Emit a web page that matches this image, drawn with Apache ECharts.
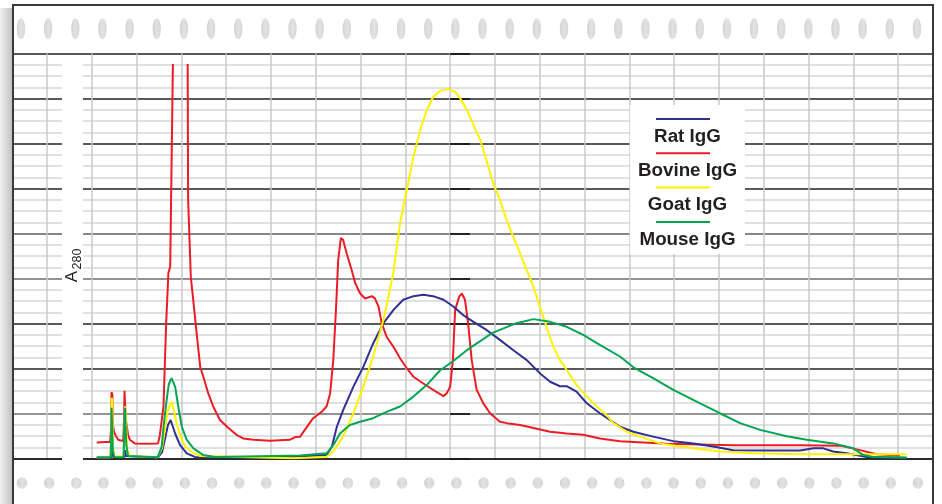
<!DOCTYPE html>
<html><head><meta charset="utf-8">
<script src="https://cdn.jsdelivr.net/npm/echarts@6/dist/echarts.min.js"></script>
<style>html,body{margin:0;padding:0;background:#fff}#c{width:942px;height:504px}</style>
</head><body><div id="c"></div>
<script>
// Series names and colours
const seriesNames = ['Rat IgG', 'Bovine IgG', 'Goat IgG', 'Mouse IgG'];
const seriesColors = ['#2e3192', '#ed1c24', '#fff200', '#00a651'];
const axisTitle = 'A';
const axisTitleSub = '280';

// [elution position (grid units), A280 (major grid units)]
const ratIgG = [
[1.11,0.02],[1.43,0.02],[1.44,0.19],[1.46,0.15],[1.48,0.04],[1.73,0.04],[1.74,0.19],[1.76,0.06],[2.47,0.02],[2.57,0.15],[2.63,0.42],[2.70,0.75],[2.76,0.86],[2.86,0.56],[2.97,0.30],[3.12,0.12],[3.30,0.04],[4.50,0.03],[5.60,0.05],[6.24,0.08],[6.36,0.27],[6.47,0.71],[6.61,1.08],[6.84,1.60],[7.06,2.04],[7.28,2.56],[7.51,3.01],[7.73,3.30],[7.95,3.53],[8.18,3.61],[8.40,3.64],[8.62,3.61],[8.85,3.53],[9.07,3.38],[9.29,3.19],[9.52,3.04],[9.81,2.86],[10.11,2.64],[10.41,2.41],[10.71,2.19],[11.00,1.90],[11.23,1.71],[11.45,1.61],[11.60,1.61],[11.82,1.49],[12.05,1.23],[12.34,1.01],[12.79,0.71],[13.09,0.60],[13.53,0.49],[13.98,0.39],[14.43,0.34],[14.87,0.27],[15.32,0.19],[16.07,0.18],[16.81,0.18],[17.11,0.23],[17.33,0.23],[17.55,0.16],[17.85,0.12],[18.30,0.04],[19.19,0.02]
];
const bovineIgG = [
[1.11,0.36],[1.30,0.37],[1.41,0.37],[1.43,0.64],[1.44,1.48],[1.46,1.42],[1.47,0.75],[1.50,0.59],[1.54,0.50],[1.59,0.42],[1.70,0.39],[1.72,0.86],[1.73,1.51],[1.75,1.48],[1.76,0.86],[1.81,0.53],[1.85,0.42],[1.96,0.34],[2.19,0.33],[2.48,0.34],[2.52,0.53],[2.60,1.16],[2.66,3.01],[2.71,4.13],[2.75,4.26],[2.81,8.75],[2.82,9.8],[3.13,9.8],[3.14,8.75],[3.15,5.75],[3.21,4.04],[3.28,3.38],[3.34,2.79],[3.42,2.04],[3.49,1.82],[3.60,1.45],[3.71,1.16],[3.86,0.86],[4.05,0.68],[4.23,0.53],[4.38,0.45],[4.61,0.42],[4.98,0.40],[5.42,0.42],[5.54,0.48],[5.65,0.49],[5.94,0.90],[6.13,1.04],[6.24,1.16],[6.32,1.45],[6.39,2.19],[6.45,3.30],[6.50,4.41],[6.56,4.90],[6.61,4.86],[6.69,4.56],[6.80,4.19],[6.88,3.90],[6.99,3.67],[7.10,3.56],[7.25,3.61],[7.32,3.56],[7.40,3.38],[7.47,3.01],[7.58,2.71],[7.73,2.49],[7.88,2.23],[8.03,2.01],[8.18,1.82],[8.40,1.67],[8.62,1.53],[8.85,1.39],[8.92,1.45],[9.00,1.60],[9.06,2.19],[9.11,3.30],[9.20,3.60],[9.26,3.67],[9.33,3.53],[9.40,3.01],[9.48,2.19],[9.59,1.53],[9.74,1.23],[9.89,1.01],[10.11,0.82],[10.26,0.79],[10.56,0.75],[10.86,0.68],[11.23,0.60],[11.60,0.56],[11.97,0.53],[12.34,0.45],[12.79,0.39],[13.83,0.33],[15.32,0.30],[16.81,0.30],[17.70,0.29],[18.15,0.19],[18.52,0.10],[19.04,0.07]
];
const goatIgG = [
[1.11,0.03],[1.41,0.03],[1.44,0.42],[1.44,1.35],[1.46,1.30],[1.47,0.30],[1.50,0.06],[1.70,0.04],[1.73,0.64],[1.74,1.16],[1.76,0.97],[1.79,0.19],[1.85,0.06],[2.47,0.03],[2.57,0.24],[2.63,0.64],[2.70,1.08],[2.78,1.27],[2.83,1.08],[2.90,0.75],[2.99,0.46],[3.10,0.26],[3.26,0.13],[3.42,0.06],[4.53,0.03],[5.50,0.01],[6.24,0.04],[6.39,0.16],[6.61,0.49],[6.84,1.01],[7.06,1.60],[7.28,2.27],[7.51,3.08],[7.73,4.12],[7.88,5.23],[8.03,5.97],[8.18,6.71],[8.33,7.30],[8.48,7.75],[8.62,8.04],[8.77,8.17],[8.96,8.21],[9.11,8.15],[9.22,8.01],[9.37,7.75],[9.52,7.41],[9.67,7.08],[9.81,6.63],[9.96,6.12],[10.11,5.75],[10.26,5.30],[10.41,4.93],[10.56,4.56],[10.71,4.19],[10.86,3.82],[11.00,3.38],[11.15,2.93],[11.30,2.49],[11.45,2.19],[11.60,1.97],[11.82,1.64],[12.05,1.38],[12.27,1.16],[12.49,0.97],[12.64,0.79],[12.94,0.60],[13.24,0.49],[13.68,0.34],[14.13,0.27],[14.43,0.23],[15.02,0.16],[15.77,0.12],[16.81,0.10],[18.30,0.10],[19.19,0.10]
];
const mouseIgG = [
[1.11,0.03],[1.42,0.03],[1.44,0.64],[1.44,1.13],[1.46,1.13],[1.47,0.19],[1.50,0.04],[1.71,0.03],[1.73,0.86],[1.74,1.13],[1.76,1.13],[1.77,0.30],[1.81,0.06],[2.47,0.03],[2.56,0.27],[2.61,0.79],[2.67,1.30],[2.72,1.66],[2.78,1.79],[2.82,1.75],[2.86,1.60],[2.93,1.16],[3.01,0.71],[3.12,0.42],[3.27,0.23],[3.49,0.08],[3.75,0.04],[5.65,0.07],[6.24,0.12],[6.39,0.30],[6.54,0.56],[6.76,0.75],[6.99,0.82],[7.28,0.90],[7.58,1.04],[7.88,1.16],[8.18,1.38],[8.48,1.64],[8.77,1.96],[9.07,2.17],[9.37,2.41],[9.67,2.61],[9.93,2.79],[10.48,3.01],[10.86,3.10],[11.23,3.04],[11.60,2.93],[11.97,2.75],[12.34,2.53],[12.79,2.27],[13.09,2.03],[13.53,1.79],[13.98,1.53],[14.58,1.23],[15.02,1.01],[15.47,0.79],[15.92,0.64],[16.51,0.50],[16.96,0.42],[17.55,0.34],[18.00,0.23],[18.22,0.08],[18.44,0.04],[19.19,0.02]
];
const seriesData = [ratIgG, bovineIgG, goatIgG, mouseIgG];

const X_MAX = 19.777;   // elution range shown up to the right edge
const Y_MAX = 9;        // major grid rows
const Y_CLIP = 8.745;   // recorder pen limit

const chart = echarts.init(document.getElementById('c'), null, {renderer: 'canvas'});
const FONT = '"Liberation Sans", Arial, Helvetica, sans-serif';

const graphics = [];
// left shadow
graphics.push({type: 'rect', z: 0, shape: {x: 0, y: 8, width: 12, height: 500},
  style: {fill: new echarts.graphic.LinearGradient(0, 0, 1, 0, [{offset: 0, color: '#f2f2f2'}, {offset: 1, color: '#c2c2c2'}])}});
// perforations
for (let i = 0; i < 34; i++) {
  graphics.push({type: 'ellipse', z: 0, shape: {cx: 21 + 27.15 * i, cy: 28.8, rx: 4.2, ry: 10.5},
    style: {fill: new echarts.graphic.LinearGradient(0, 0, 1, 0, [{offset: 0, color: '#d2d2d2'}, {offset: 0.5, color: '#e2e2e2'}, {offset: 1, color: '#d6d6d6'}])}});
  graphics.push({type: 'ellipse', z: 0, shape: {cx: 22 + 27.15 * i, cy: 483, rx: 5.2, ry: 5.8},
    style: {fill: new echarts.graphic.LinearGradient(0, 0, 1, 0, [{offset: 0, color: '#d2d2d2'}, {offset: 0.5, color: '#e2e2e2'}, {offset: 1, color: '#d6d6d6'}])}});
}
// frame
graphics.push({type: 'rect', z: 10, shape: {x: 13, y: 5, width: 920, height: 520},
  style: {fill: null, stroke: '#3a3a3a', lineWidth: 2}});
// gap for axis title
graphics.push({type: 'rect', z: 1, shape: {x: 62, y: 55.5, width: 21, height: 406}, style: {fill: '#fff'}});
graphics.push({type: 'text', z: 5, x: 72.5, y: 276.5, rotation: Math.PI / 2,
  style: {text: axisTitle, x: 0, y: 0, align: 'center', verticalAlign: 'middle', font: '17px ' + FONT, fill: '#231f20'}});
graphics.push({type: 'text', z: 5, x: 78, y: 259, rotation: Math.PI / 2,
  style: {text: axisTitleSub, x: 0, y: 0, align: 'center', verticalAlign: 'middle', font: '12.5px ' + FONT, fill: '#231f20'}});
// legend box
graphics.push({type: 'rect', z: 1, shape: {x: 630, y: 105, width: 115, height: 149}, style: {fill: '#fff'}});
seriesNames.forEach((name, i) => {
  const y0 = 119 + 34.3 * i;
  graphics.push({type: 'line', z: 5, shape: {x1: 656, y1: y0, x2: 710, y2: y0},
    style: {stroke: seriesColors[i], lineWidth: 2}});
  graphics.push({type: 'text', z: 5, style: {text: name, x: 687.5, y: y0 + 17.5, align: 'center', verticalAlign: 'middle',
    font: 'bold 18.8px ' + FONT, fill: '#231f20'}});
});

const hidden = {axisLine: {show: false}, axisTick: {show: false}, axisLabel: {show: false}};
const majorColors = ['#7a7a7a', '#7a7a7a', '#2e2e2e', '#2e2e2e', '#7a7a7a', '#6a6a6a', '#2e2e2e', '#2e2e2e', '#2e2e2e', '#2b2b2b'];

const option = {
  animation: false,
  backgroundColor: '#ffffff',
  grid: [
    {left: 14, right: 9, top: 53.5, bottom: 45.3},
    {left: 47, right: 9, top: 53.5, bottom: 45.3},
    {left: 47, right: 9, top: 65, bottom: 45.3},
    {left: 450, width: 20, top: 53.5, bottom: 45.3}
  ],
  xAxis: [
    {gridIndex: 0, type: 'value', min: 0, max: 1, position: 'top', axisLine: {show: true, lineStyle: {color: '#2b2b2b', width: 2}}, axisTick: {show: false}, axisLabel: {show: false}, splitLine: {show: false}},
    Object.assign({gridIndex: 1, type: 'value', min: 0, max: X_MAX, interval: 1, splitLine: {show: true, lineStyle: {color: '#c8c8c8', width: 1.5}}}, hidden),
    {gridIndex: 2, type: 'value', min: 0, max: X_MAX, show: false},
    {gridIndex: 3, type: 'value', min: 0, max: 1, show: false}
  ],
  yAxis: [
    Object.assign({gridIndex: 0, type: 'value', min: 0, max: Y_MAX, interval: 0.25, splitLine: {show: true, lineStyle: {color: '#d6d6d6', width: 1.5}}}, hidden),
    Object.assign({gridIndex: 0, type: 'value', min: 0, max: Y_MAX, interval: 1, splitLine: {show: true, lineStyle: {color: majorColors, width: 1.5}}}, hidden),
    {gridIndex: 1, type: 'value', min: 0, max: Y_MAX, show: false},
    {gridIndex: 2, type: 'value', min: 0, max: Y_CLIP, show: false},
    Object.assign({gridIndex: 3, type: 'value', min: 0, max: Y_MAX, interval: 1, z: 1, splitLine: {show: true, lineStyle: {color: '#1a1a1a', width: 1.8}}}, hidden)
  ],
  graphic: {elements: graphics},
  series: [1, 0, 2, 3].map(i => ({
    type: 'line', name: seriesNames[i], xAxisIndex: 2, yAxisIndex: 3,
    data: seriesData[i], showSymbol: false, symbol: 'none', clip: true, z: 3,
    lineStyle: {color: seriesColors[i], width: 2}, itemStyle: {color: seriesColors[i]}
  }))
};
chart.setOption(option);
</script>
</body></html>
